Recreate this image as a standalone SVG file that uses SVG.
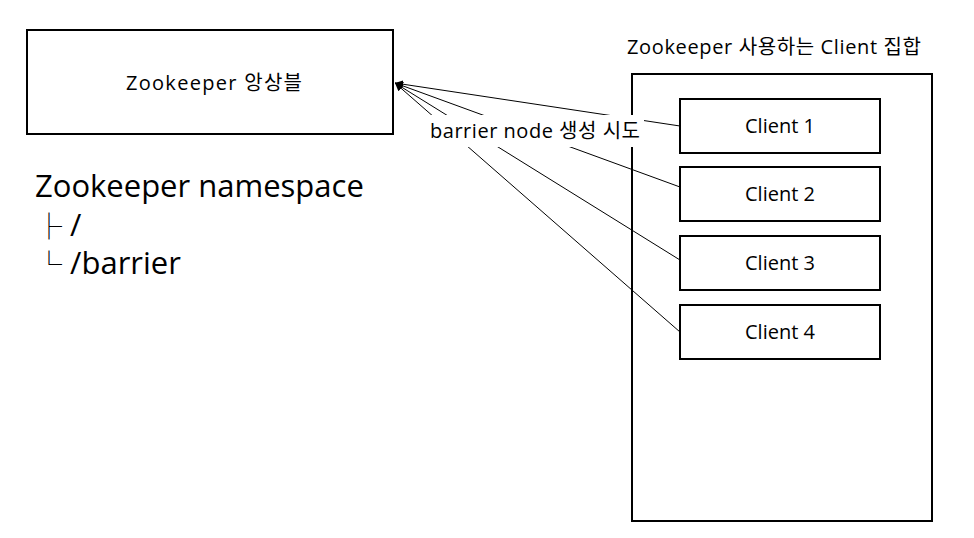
<svg xmlns="http://www.w3.org/2000/svg" width="974" height="538" viewBox="0 0 974 538">
<defs>
<style>
text{font-family:"Open Sans","Noto Sans CJK KR",sans-serif;fill:#000}
.box{fill:#fff;stroke:#000;stroke-width:2}
.t18{font-size:20px}
.big{font-size:31px}
.bx{font-size:26px}
.c{text-anchor:middle}
.ln{stroke:#000;stroke-width:1;fill:none}
</style>
<marker id="ah" viewBox="0 0 10 10" refX="10" refY="5" markerWidth="8" markerHeight="8" orient="auto-start-reverse" markerUnits="userSpaceOnUse">
<path d="M0,0 L10,5 L0,10 z" fill="#000"/>
</marker>
</defs>
<rect width="974" height="538" fill="#fff"/>
<g id="zookeeper">
<rect class="box" x="27" y="30" width="366" height="104"/>
<text class="t18 c" x="214" y="90" textLength="176" lengthAdjust="spacing">Zookeeper 앙상블</text>
</g>
<g id="client-set">
<text class="t18" x="627" y="54" textLength="294" lengthAdjust="spacing">Zookeeper 사용하는 Client 집합</text>
<rect class="box" x="632" y="74" width="300" height="447"/>
</g>
<g id="connectors">
<line class="ln" x1="680" y1="126" x2="395" y2="83" marker-end="url(#ah)"/>
<line class="ln" x1="680" y1="187" x2="395" y2="83" marker-end="url(#ah)"/>
<line class="ln" x1="680" y1="260" x2="395" y2="83" marker-end="url(#ah)"/>
<line class="ln" x1="680" y1="332" x2="395" y2="83" marker-end="url(#ah)"/>
</g>
<g id="label">
<rect x="426" y="115" width="218" height="32" fill="#fff"/>
<text class="t18 c" x="535" y="138" textLength="210" lengthAdjust="spacing">barrier node 생성 시도</text>
</g>
<g id="client1">
<rect class="box" x="680" y="99" width="200" height="54"/>
<text class="t18 c" x="780" y="133">Client 1</text>
</g>
<g id="client2">
<rect class="box" x="680" y="167" width="200" height="54"/>
<text class="t18 c" x="780" y="201">Client 2</text>
</g>
<g id="client3">
<rect class="box" x="680" y="236" width="200" height="54"/>
<text class="t18 c" x="780" y="270">Client 3</text>
</g>
<g id="client4">
<rect class="box" x="680" y="305" width="200" height="54"/>
<text class="t18 c" x="780" y="339">Client 4</text>
</g>
<g id="namespace">
<text class="big" x="35" y="197">Zookeeper namespace</text>
<text class="big" x="36" y="236"><tspan class="bx">├</tspan> /</text>
<text class="big" x="36" y="274"><tspan class="bx">└</tspan> /barrier</text>
</g>
</svg>
